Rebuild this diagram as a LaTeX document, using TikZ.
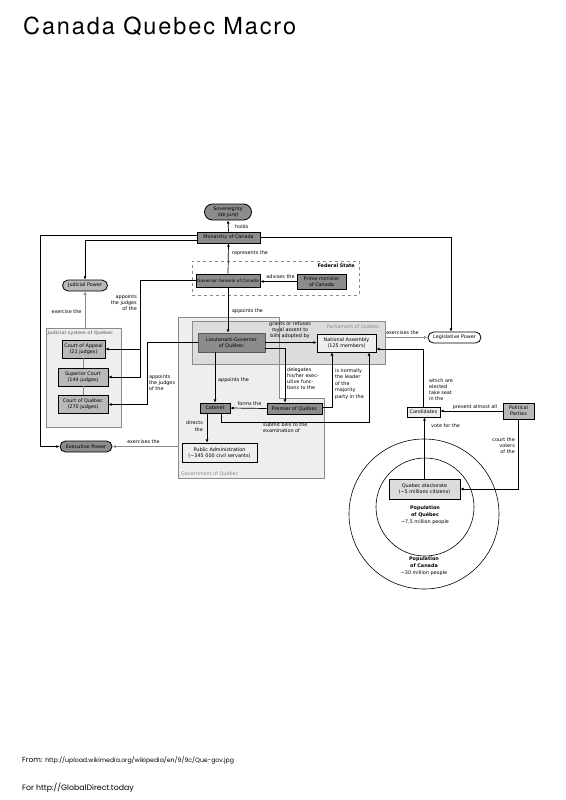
\documentclass[tikz,border=0pt]{standalone}
\usepackage{fontspec}
\setmainfont{DejaVu Sans}
\newfontfamily\titlefont[LetterSpace=8]{TeX Gyre Heros}
\newfontfamily\footfont{Poppins}
\usetikzlibrary{arrows.meta}
\definecolor{dk}{HTML}{8C8C8C}
\definecolor{md}{HTML}{B9B9B9}
\definecolor{lt}{HTML}{EEEEEE}
\definecolor{parbg}{HTML}{DCDCDC}
\definecolor{gr}{HTML}{8A8A8A}
\newcommand\lbl{\fontsize{4.9}{6}\selectfont}
\tikzset{
  dbox/.style={draw=black, line width=0.8pt, fill=dk},
  mbox/.style={draw=black, line width=0.8pt, fill=md},
  lbox/.style={draw=black, line width=0.8pt, fill=lt},
  pill/.style={rounded corners=5.5pt},
  arr/.style={draw=black, line width=0.7pt, -{Latex[length=3.2pt,width=3pt]}},
  garr/.style={draw=gr, line width=0.6pt, -{Latex[open,length=3.5pt,width=3.5pt]}},
  frame/.style={draw=gr, line width=0.6pt},
}
\begin{document}
\begin{tikzpicture}[x=1pt,y=-1pt, every node/.style={inner sep=0pt, align=center, font=\lbl}]
\useasboundingbox[fill=white] (0,0) rectangle (565,800);

% title and footer
\node[anchor=west, font=\titlefont\fontsize{23.5}{24}\selectfont] (title) at (23,26) {Canada Quebec Macro};
\node[anchor=west, font=\footfont\fontsize{7.4}{7.4}\selectfont] (from) at (22,760) {From: {\fontsize{6.2}{6.5}\selectfont http://upload.wikimedia.org/wikipedia/en/9/9c/Que-gov.jpg}};
\node[anchor=west, font=\footfont\fontsize{7.8}{7.8}\selectfont] (for) at (22,788) {For http://GlobalDirect.today};

% frames
\node[draw=gr, dashed, line width=0.6pt, minimum width=167pt, minimum height=34pt] (fed) at (275.5,278) {};
\node[anchor=east, font=\lbl\bfseries] (fedl) at (355,266) {Federal State};

\node[frame, fill=lt, minimum width=75pt, minimum height=99pt] (jud) at (83.5,377.5) {};
\node[anchor=west, text=gr, font=\fontsize{4.5}{5}\selectfont\bfseries] (judl) at (47.5,333) {Judicial system of Québec};

\fill[lt] (178,317) -- (279,317) -- (279,398) -- (324,398) -- (324,478) -- (178,478) -- cycle;
\node[frame, fill=parbg, minimum width=193pt, minimum height=43pt] (par) at (288.5,342.5) {};
\draw[frame] (178,317) -- (279,317) -- (279,398) -- (324,398) -- (324,478) -- (178,478) -- cycle;
\node[anchor=east, text=gr] (parl) at (380,327) {Parliament of Québec};
\node[anchor=west, text=gr] (govl) at (181,474) {Government of Québec};
\coordinate (govW) at (178,446.5);

% population circles
\draw[line width=0.6pt] (424,514) circle[radius=75];
\draw[line width=0.6pt] (425,507) circle[radius=49];
\node[font=\lbl] (popq) at (425,515) {\textbf{Population}\\[1pt]\textbf{of Québec}\\[1pt]\textasciitilde7,5 million people};
\node[font=\lbl] (popc) at (424,566) {\textbf{Population}\\[1pt]\textbf{of Canada}\\[1pt]\textasciitilde30 million people};

% nodes
\node[dbox, pill, rounded corners=8pt, minimum width=47pt, minimum height=16pt] (sov) at (228,212) {Sovereignty\\\textit{(de jure)}};
\node[dbox, line width=1pt, minimum width=63pt, minimum height=11pt] (mon) at (228.5,237.5) {Monarchy of Canada};
\node[dbox, line width=1pt, minimum width=64pt, minimum height=13pt, font=\fontsize{4.3}{5}\selectfont] (gg) at (228,280.5) {Governor General of Canada};
\node[dbox, minimum width=49pt, minimum height=15pt] (pm) at (321.5,281.5) {Prime minister\\of Canada};
\node[mbox, pill, minimum width=45pt, minimum height=11pt] (jp) at (85,285.5) {Judicial Power};
\node[mbox, minimum width=43pt, minimum height=18pt] (ca) at (83.5,349) {Court of Appeal\\(21 judges)};
\node[mbox, minimum width=50pt, minimum height=18pt] (sc) at (83,377) {Superior Court\\(144 judges)};
\node[mbox, minimum width=50pt, minimum height=18pt] (cq) at (83,404.5) {Court of Québec\\(270 judges)};
\node[draw=black!65, fill=dk, line width=0.8pt, minimum width=67pt, minimum height=19pt] (lg) at (231.5,342.5) {Lieutenant-Governor\\of Québec};
\node[lbox, minimum width=59pt, minimum height=18pt] (na) at (346.5,343) {National Assembly\\(125 members)};
\node[draw=black, line width=0.8pt, fill=white, pill, minimum width=53pt, minimum height=11pt] (leg) at (454.5,337.5) {Legislative Power};
\node[dbox, minimum width=30pt, minimum height=10pt] (cab) at (215,408) {Cabinet};
\node[dbox, minimum width=55pt, minimum height=11pt] (pre) at (294.5,408.5) {Premier of Québec};
\node[lbox, minimum width=75pt, minimum height=19pt] (pa) at (219.5,452.5) {Public Administration\\(\textasciitilde345 000 civil servants)};
\node[dbox, pill, minimum width=52pt, minimum height=11pt] (exe) at (86,446.5) {Executive Power};
\node[lbox, minimum width=33pt, minimum height=10pt] (cand) at (423.5,412) {Candidates};
\node[mbox, minimum width=31pt, minimum height=16pt] (pp) at (518.5,411) {Political\\Parties};
\node[draw=black, line width=0.8pt, fill=parbg, minimum width=71pt, minimum height=20pt] (elec) at (424.5,489) {Quebec electorate\\(\textasciitilde5 millions citizens)};

% connectors
\draw[arr] (mon.north) -- (sov.south);
\draw[arr] (gg.north) -- (mon.south);
\draw[arr] (pm.west) -- (pm.west -| gg.east);
\draw[arr] (gg.south) -- (gg.south |- lg.north);
\draw[arr] ([yshift=2.5pt]mon.west) -| (40,0 |- exe.west) -- (exe.west);
\draw[arr] ([yshift=-3pt]mon.west) -| (jp.north);
\draw[arr] (mon.east) -| (451,0 |- leg.north);
\draw[garr] (jp.south |- jud.north) -- (jp.south);
\draw[arr] (gg.west) -| (140,0 |- sc.east) -- (sc.east);
\draw[arr] (140,0 |- ca.east) -- (ca.east);
\draw[arr] (lg.west) -| (147,0 |- cq.east) -- (cq.east);
\draw[frame] (ca.south) -- (ca.south |- sc.north);
\draw[frame] (sc.south) -- (cq.north);
\draw[arr] (lg.east) -- (lg.east -| na.west);
\draw[arr] ([yshift=-5.5pt]lg.east) -| (285,0 |- pre.north);
\draw[arr] (lg.south -| cab.north) -- (cab.north);
\draw[arr] (pre.west) -- (cab.east);
\draw[arr] ([yshift=1.5pt]pre.east) -| (332,0 |- na.south);
\draw[arr] ([xshift=6pt]cab.south) -- ++(0,9) -| (369,0 |- na.south);
\draw[arr] ([xshift=-8pt]cab.south) -- ([xshift=-8pt]cab.south |- pa.north);
\draw[garr] (par.east |- leg.west) -- (leg.west);
\draw[garr] (govW) -- (exe.east);
\draw[arr] (cand.north) -- (cand.north |- 0,349) -- (na.east |- 0,349);
\draw[arr] (pp.west) -- (pp.west -| cand.east);
\draw[arr] (pp.south) |- (elec.east);
\draw[arr] (elec.north) -- (elec.north |- cand.south);

% labels
\node[anchor=west] (l1) at (235,227) {holds};
\node[anchor=west] (l2) at (232,253) {represents the};
\node (l3) at (280.5,277) {advises the};
\node[anchor=west] (l4) at (232,311) {appoints the};
\node (l5) at (66.5,312) {exercise the};
\node[anchor=north east, align=right] (l6) at (137,294.5) {appoints\\the judges\\of the};
\node[anchor=north west, align=left] (l7) at (149,375) {appoints\\the judges\\of the};
\node (l8) at (290,330) {grants or refuses\\royal assent to\\bills adopted by};
\node[anchor=north west, align=left] (l9) at (287,368) {delegates\\his/her exec-\\utive func-\\tions to the};
\node[anchor=west] (l10) at (218,380) {appoints the};
\node (l11) at (249.5,404) {forms the};
\node[anchor=north west, align=left, font=\fontsize{4.9}{6.5}\selectfont] (l12) at (335,368.5) {is normally\\the leader\\of the\\majority\\party in the};
\node[anchor=north west, align=left] (l13) at (263,423) {submit bills to the\\examination of};
\node[anchor=north east, align=right, font=\fontsize{4.9}{7}\selectfont] (l14) at (203,421) {directs\\the};
\node (l15) at (143.5,442) {exercises the};
\node (l16) at (402.5,333) {exercises the};
\node[anchor=north west, align=left] (l17) at (429,379) {which are\\elected\\take seat\\in the};
\node (l18) at (475,407) {present almost all};
\node[anchor=west] (l19) at (431,426) {vote for the};
\node[anchor=north east, align=right] (l20) at (515,438) {court the\\voters\\of the};
\end{tikzpicture}
\end{document}
